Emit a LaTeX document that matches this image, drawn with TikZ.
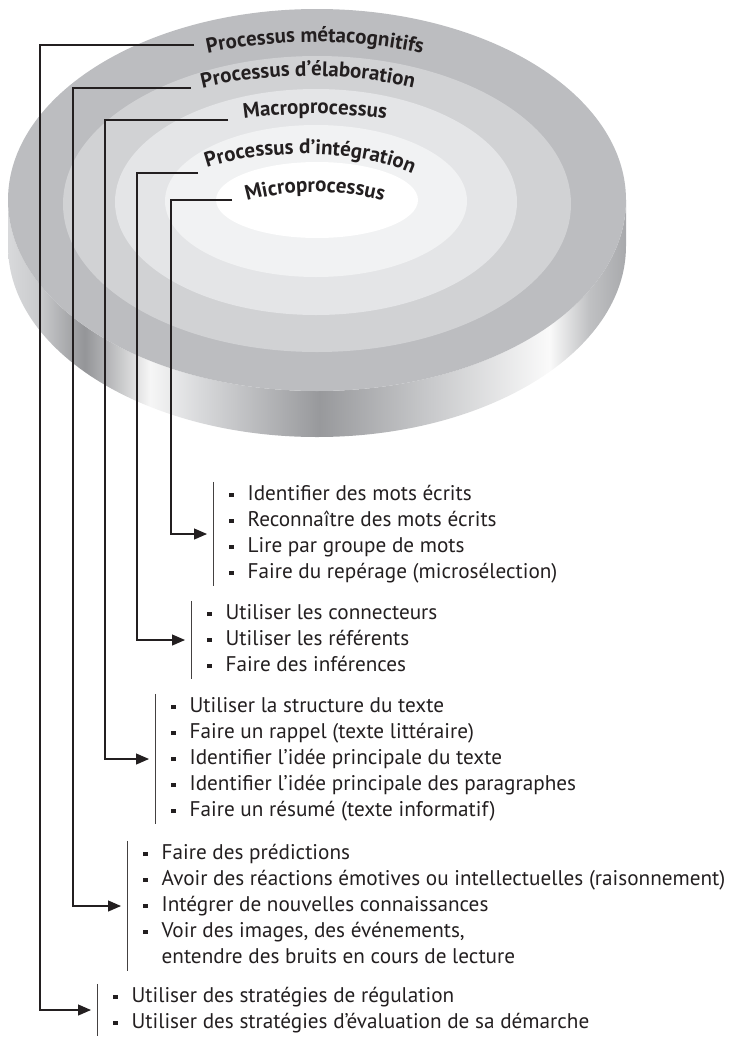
\documentclass[tikz,border=0pt]{standalone}
\usepackage{fontspec}
\setmainfont{PT Sans}
\usetikzlibrary{arrows.meta,decorations.text}

\definecolor{ink}{HTML}{231F20}
\definecolor{ringA}{HTML}{BCBDC0}
\definecolor{ringB}{HTML}{D1D2D4}
\definecolor{ringC}{HTML}{E4E5E7}
\definecolor{ringD}{HTML}{F1F2F3}
% side of the disc, left to right
\definecolor{sideA}{HTML}{D8D9DB}
\definecolor{sideB}{HTML}{C9CACC}
\definecolor{sideC}{HTML}{949598}
\definecolor{sideD}{HTML}{B0B1B3}
\definecolor{sideE}{HTML}{F6F6F6}
\definecolor{sideF}{HTML}{D8D9DB}
\definecolor{sideG}{HTML}{98999C}
\definecolor{sideH}{HTML}{C8C9CB}
\definecolor{sideI}{HTML}{FAFAFA}
\definecolor{sideJ}{HTML}{C0C1C3}
\definecolor{sideK}{HTML}{A8A9AC}
\pgfdeclarehorizontalshading{discside}{100bp}{color(0bp)=(sideA); color(25bp)=(sideA);
  color(27.6bp)=(sideB); color(31.2bp)=(sideC); color(32.8bp)=(sideD); color(36.5bp)=(sideE);
  color(40.5bp)=(sideF); color(50.2bp)=(sideG); color(59.1bp)=(sideH); color(68.8bp)=(sideI);
  color(72bp)=(sideJ); color(75bp)=(sideK); color(100bp)=(sideK)}

\newcommand\listfont{\fontsize{21.2}{26}\selectfont}
\newcommand\ringfont{\fontsize{21}{23}\selectfont\bfseries\color{ink}}
\newcommand\sq{\rule[0.15em]{0.21em}{0.21em}}

\begin{document}
\begin{tikzpicture}[x=1pt,y=-1pt,
    link/.style={line width=1.2pt, draw=ink, -{Triangle[length=13pt,width=11pt]}, shorten >=6pt},
    bar/.style={line width=1pt, draw=ink!85},
    lst/.style={anchor=west, inner xsep=16pt, inner ysep=0pt, font=\listfont, text=ink, align=left},
    ringlabel/.style={decorate, decoration={text along path, text align=center, text={|\ringfont|#1}}}]
  \useasboundingbox (0,0) rectangle (732,1039);

  % side of the disc
  \shade[shading=discside] (8,200) -- (8,246)
    arc[start angle=180, end angle=0, x radius=309, y radius=191] -- (626,200)
    arc[start angle=0, end angle=180, x radius=309, y radius=191] -- cycle;
  % top rings
  \fill[ringA] (317,200) ellipse [x radius=309, y radius=191];
  \fill[ringB] (317,204) ellipse [x radius=254, y radius=148];
  \fill[ringC] (316,202) ellipse [x radius=201, y radius=113];
  \fill[ringD] (316,201) ellipse [x radius=151, y radius=76];
  \fill[white] (317,200) ellipse [x radius=101, y radius=38];

  % ring labels
  \path[ringlabel=Processus métacognitifs] (315,200) ++(200:290 and 158)
    arc[start angle=200, end angle=340, x radius=290, y radius=158];
  \path[ringlabel=Processus d’élaboration] (308,200) ++(200:245 and 124)
    arc[start angle=200, end angle=340, x radius=245, y radius=124];
  \path[ringlabel=Macroprocessus] (315,200) ++(200:215 and 86)
    arc[start angle=200, end angle=340, x radius=215, y radius=86];
  \path[decorate, decoration={text along path, text align=left, text={|\ringfont|Processus d’intégration}}]
    (302,210) ++(229:145 and 56) arc[start angle=229, end angle=358, x radius=145, y radius=56];
  \path[ringlabel=Microprocessus] (315,262) ++(200:138 and 70)
    arc[start angle=200, end angle=340, x radius=138, y radius=70];

  % label ends
  \coordinate (end-meta) at (194,45);
  \coordinate (end-elab) at (191,88);
  \coordinate (end-macro) at (228,120);
  \coordinate (end-integ) at (198,173);
  \coordinate (end-micro) at (232,200);

  % lists
  \node[lst] (lst-micro) at (213,534) {\begin{tabular}{@{}l@{\hspace{14pt}}l@{}}
    \sq & Identifier des mots écrits\\
    \sq & Reconnaître des mots écrits\\
    \sq & Lire par groupe de mots\\
    \sq & Faire du repérage (microsélection)
  \end{tabular}};
  \node[lst] (lst-integ) at (191,640) {\begin{tabular}{@{}l@{\hspace{14pt}}l@{}}
    \sq & Utiliser les connecteurs\\
    \sq & Utiliser les référents\\
    \sq & Faire des inférences
  \end{tabular}};
  \node[lst] (lst-macro) at (155,759) {\begin{tabular}{@{}l@{\hspace{14pt}}l@{}}
    \sq & Utiliser la structure du texte\\
    \sq & Faire un rappel (texte littéraire)\\
    \sq & Identifier l’idée principale du texte\\
    \sq & Identifier l’idée principale des paragraphes\\
    \sq & Faire un résumé (texte informatif)
  \end{tabular}};
  \node[lst] (lst-elab) at (127,906) {\begin{tabular}{@{}l@{\hspace{14pt}}l@{}}
    \sq & Faire des prédictions\\
    \sq & Avoir des réactions émotives ou intellectuelles (raisonnement)\\
    \sq & Intégrer de nouvelles connaissances\\
    \sq & Voir des images, des événements,\\
        & entendre des bruits en cours de lecture
  \end{tabular}};
  \node[lst] (lst-meta) at (97,1010) {\begin{tabular}{@{}l@{\hspace{14pt}}l@{}}
    \sq & Utiliser des stratégies de régulation\\
    \sq & Utiliser des stratégies d’évaluation de sa démarche
  \end{tabular}};

  % brackets and connectors
  \foreach \n/\dx in {meta/154, elab/118, macro/123, integ/61, micro/61} {
    \draw[bar] (lst-\n.north west) -- (lst-\n.south west);
    \draw[link] (end-\n) -- ++(-\dx,0) |- (lst-\n.west);
  }
\end{tikzpicture}
\end{document}
